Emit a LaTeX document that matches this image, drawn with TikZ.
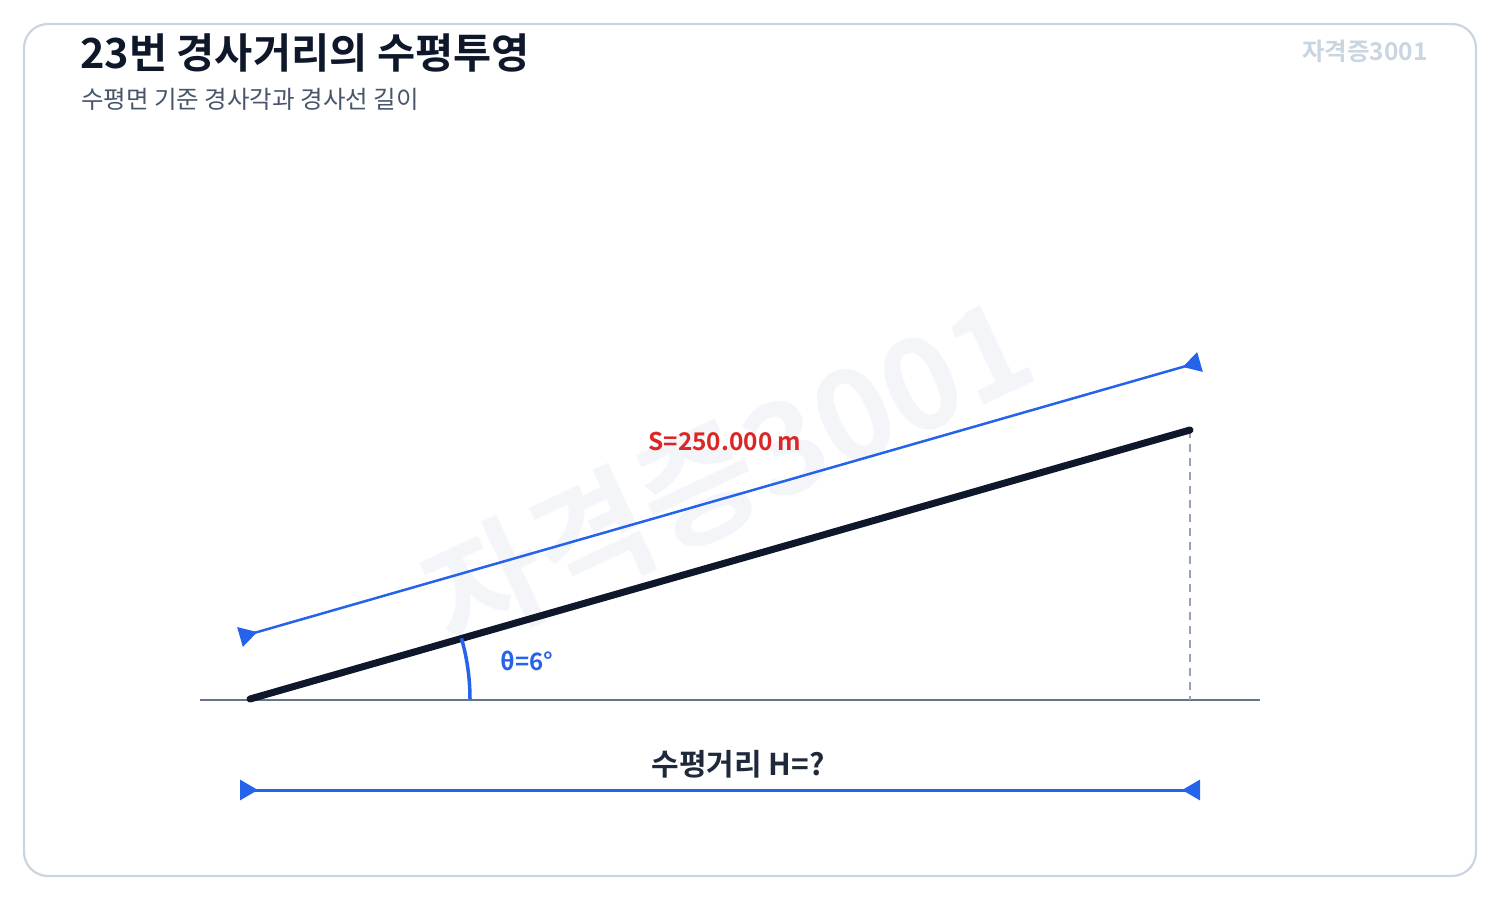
\documentclass[tikz,border=0pt]{standalone}
\usepackage{fontspec}
\setmainfont{Noto Sans CJK KR}[BoldFont={Noto Sans CJK KR Bold}]
\usetikzlibrary{arrows.meta}
\definecolor{framecol}{HTML}{CBD5E1}
\definecolor{inkcol}{HTML}{0F172A}
\definecolor{subcol}{HTML}{475569}
\definecolor{groundcol}{HTML}{64748B}
\definecolor{dashcol}{HTML}{94A3B8}
\definecolor{bluecol}{HTML}{2563EB}
\definecolor{redcol}{HTML}{DC2626}
\definecolor{wmcol}{HTML}{F3F5F8}
\definecolor{navycol}{HTML}{1E293B}
\tikzset{
  dimline/.style={draw=bluecol, {Triangle[reversed,length=18pt,width=20pt]}-{Triangle[reversed,length=18pt,width=20pt]}},
  lbl/.style={inner sep=0pt, font=\bfseries},
}
\begin{document}
\begin{tikzpicture}[x=1pt,y=-1pt]
\useasboundingbox (0,0) rectangle (1500,900);
\draw[framecol, line width=2.2pt, rounded corners=24pt] (24,24) rectangle (1476,876);
% watermark
\node[text=wmcol, font=\bfseries\fontsize{127}{127}\selectfont, rotate=25, inner sep=0pt] (wmbig) at (728,472) {자격증3001};
\node[text=framecol, font=\bfseries\fontsize{24.5}{24.5}\selectfont, anchor=east, inner sep=0pt] (wmsmall) at (1428,51) {자격증3001};
% titles
\node[text=inkcol, font=\bfseries\fontsize{41.5}{41.5}\selectfont, anchor=west, inner sep=0pt] (title) at (80,53) {23번 경사거리의 수평투영};
\node[text=subcol, font=\fontsize{24.5}{24.5}\selectfont, anchor=west, inner sep=0pt] (subtitle) at (81,99) {수평면 기준 경사각과 경사선 길이};
% points
\coordinate (A) at (250,699);
\coordinate (B) at (1190,430);
\coordinate (G1) at (200,700);
\coordinate (G2) at (1260,700);
\coordinate (F) at (1190,700);
\coordinate (S1) at (240,637);
\coordinate (S2) at (1200,362);
\coordinate (H1) at (240,790);
\coordinate (H2) at (1200,790);
% ground
\draw[groundcol, line width=2pt] (G1) -- (G2);
% dashed vertical
\draw[dashcol, line width=2pt, dash pattern=on 8pt off 6pt] (B) -- (F);
% slope
\draw[inkcol, line width=7pt, line cap=round] (A) -- (B);
% angle arc
\draw[bluecol, line width=3.5pt] (470,699) arc[start angle=0, end angle=-16, radius=220];
% S dimension
\draw[dimline, line width=2.5pt] (S1) -- (S2);
% H dimension
\draw[dimline, line width=3pt] (H1) -- (H2);
% labels
\node[lbl, text=bluecol, font=\bfseries\fontsize{24}{24}\selectfont] (theta) at (527,661) {θ=6°};
\node[lbl, text=redcol, font=\bfseries\fontsize{24.4}{24.4}\selectfont] (slbl) at (725,441) {S=250.000 m};
\node[lbl, text=navycol, font=\bfseries\fontsize{30}{30}\selectfont] (hlbl) at (738,764) {수평거리 H=?};
\end{tikzpicture}
\end{document}
